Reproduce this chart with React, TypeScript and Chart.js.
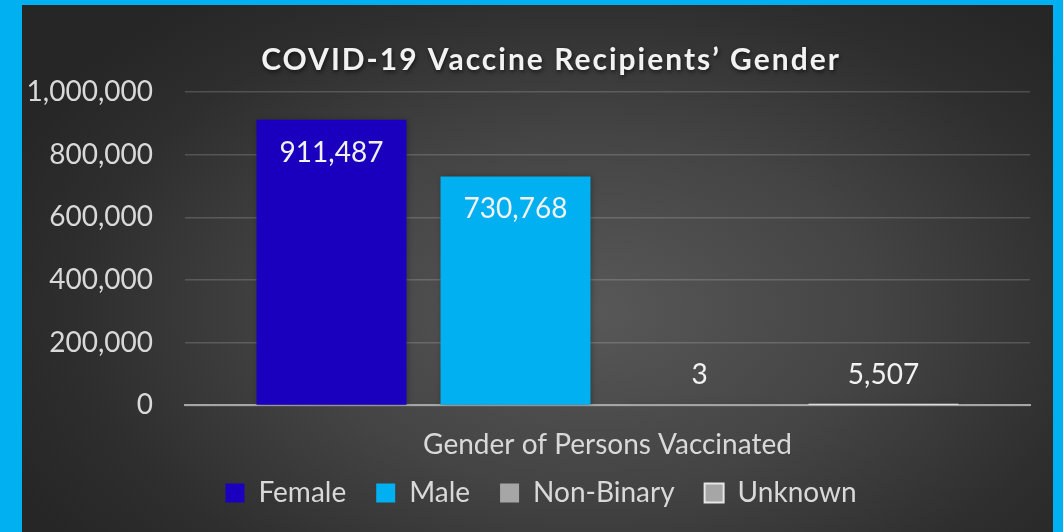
import React, { useEffect, useRef } from "react";
import { Chart, registerables } from "chart.js";

Chart.register(...registerables);

const categories = ["Gender of Persons Vaccinated"];
const seriesNames = ["Female", "Male", "Non-Binary", "Unknown"];
const femaleValues = [911487];
const maleValues = [730768];
const nonBinaryValues = [3];
const unknownValues = [5507];
const yTickValues = [0, 200000, 400000, 600000, 800000, 1000000];
const titleText = "COVID-19 Vaccine Recipients\u2019 Gender";

const FONT = "Lato, 'Open Sans', sans-serif";

const fmt = (v: number) => Number(v).toLocaleString("en-US");

const titlePlugin = {
  id: "customTitle",
  afterDraw(chart: any) {
    const ctx = chart.ctx;
    ctx.save();
    ctx.font = `bold 30px ${FONT}`;
    (ctx as any).letterSpacing = "2px";
    ctx.fillStyle = "#F2F2F2";
    ctx.textAlign = "center";
    ctx.textBaseline = "middle";
    ctx.shadowColor = "rgba(0,0,0,0.6)";
    ctx.shadowBlur = 4;
    ctx.shadowOffsetX = 1;
    ctx.shadowOffsetY = 2;
    ctx.fillText(titleText, 529, 55);
    ctx.restore();
  },
};

const legendShiftPlugin = {
  id: "legendShift",
  beforeDraw(chart: any) {
    const lg = chart.legend;
    if (lg && !lg._shifted) {
      lg.left += 15;
      lg.right += 15;
      lg._shifted = true;
    }
  },
};

const shadowPlugin = {
  id: "barShadow",
  beforeDatasetsDraw(chart: any) {
    const ctx = chart.ctx;
    ctx.save();
    ctx.shadowColor = "rgba(0,0,0,0.35)";
    ctx.shadowBlur = 6;
    ctx.shadowOffsetX = 1;
    ctx.shadowOffsetY = 1;
  },
  afterDatasetsDraw(chart: any) {
    chart.ctx.restore();
  },
};

const labelPlugin = {
  id: "barLabels",
  afterDatasetsDraw(chart: any) {
    const ctx = chart.ctx;
    const base = chart.scales.y.getPixelForValue(0);
    ctx.save();
    ctx.font = `28px ${FONT}`;
    ctx.fillStyle = "#F2F2F2";
    ctx.textAlign = "center";
    ctx.textBaseline = "middle";
    chart.data.datasets.forEach((ds: any, i: number) => {
      const meta = chart.getDatasetMeta(i);
      meta.data.forEach((bar: any, j: number) => {
        const y = Math.min(bar.y + 33, base - 30);
        ctx.fillText(fmt(ds.data[j]), bar.x, y);
      });
    });
    ctx.restore();
  },
};

export default function App() {
  const ref = useRef<HTMLCanvasElement | null>(null);

  useEffect(() => {
    if (!ref.current) return;
    const chart = new Chart(ref.current, {
      type: "bar",
      data: {
        labels: categories,
        datasets: [
          {
            label: seriesNames[0],
            data: femaleValues,
            backgroundColor: "#1A00BE",
            borderWidth: 0,
          },
          {
            label: seriesNames[1],
            data: maleValues,
            backgroundColor: "#00B0F0",
            borderWidth: 0,
          },
          {
            label: seriesNames[2],
            data: nonBinaryValues,
            backgroundColor: "#A6A6A6",
            borderWidth: 0,
          },
          {
            label: seriesNames[3],
            data: unknownValues,
            backgroundColor: "#F2F2F2",
            borderWidth: 0,
          },
        ],
      },
      options: {
        responsive: false,
        animation: false,
        devicePixelRatio: 1,
        categoryPercentage: 0.871,
        barPercentage: 0.815,
        layout: { padding: { top: 87, right: 23, bottom: 15, left: 0 } },
        plugins: {
          title: { display: false },
          tooltip: { enabled: false },
          legend: {
            display: true,
            position: "bottom",
            labels: {
              color: "#D9D9D9",
              font: { family: FONT, size: 28 },
              boxWidth: 19,
              boxHeight: 19,
              padding: 30,
              generateLabels(chart: any) {
                const items =
                  Chart.defaults.plugins.legend.labels.generateLabels(chart);
                items.forEach((it: any, i: number) => {
                  it.lineWidth = 0;
                  if (i === 3) {
                    it.fillStyle = "#A6A6A6";
                    it.strokeStyle = "#E6E6E6";
                    it.lineWidth = 2;
                  }
                });
                return items;
              },
            },
          },
        },
        scales: {
          x: {
            grid: { display: false, drawTicks: false },
            border: { display: true, color: "#A6A6A6", width: 2 },
            afterFit(scale: any) {
              scale.height = 43.6;
              scale._computeLabelArea = () => undefined;
            },
            ticks: {
              color: "#D9D9D9",
              font: { family: FONT, size: 28 },
              padding: 23,
            },
          },
          y: {
            min: 0,
            max: 1000000,
            afterBuildTicks(scale: any) {
              scale.ticks = yTickValues.map((v) => ({ value: v }));
            },
            afterFit(scale: any) {
              scale.width = 163;
            },
            grid: {
              color: "rgba(255,255,255,0.17)",
              lineWidth: 1.5,
              drawTicks: false,
            },
            border: { display: false },
            ticks: {
              color: "#D9D9D9",
              font: { family: FONT, size: 28 },
              padding: 32,
              callback: (v: any) => fmt(v),
            },
          },
        },
      },
      plugins: [legendShiftPlugin, shadowPlugin, labelPlugin, titlePlugin],
    } as any);
    return () => chart.destroy();
  }, []);

  return (
    <div
      style={{
        position: "absolute",
        left: 0,
        top: 0,
        width: 1063,
        height: 532,
        background: "#00B0F0",
        overflow: "hidden",
      }}
    >
      <div
        style={{
          position: "absolute",
          left: 22,
          top: 5,
          width: 1031,
          height: 527,
          background:
            "radial-gradient(ellipse 62% 75% at 55% 58%, #585858 0%, #444444 45%, #2e2e2e 80%, #262626 100%)",
        }}
      >
        <canvas ref={ref} width={1031} height={527} style={{ display: "block" }} />
      </div>
    </div>
  );
}
